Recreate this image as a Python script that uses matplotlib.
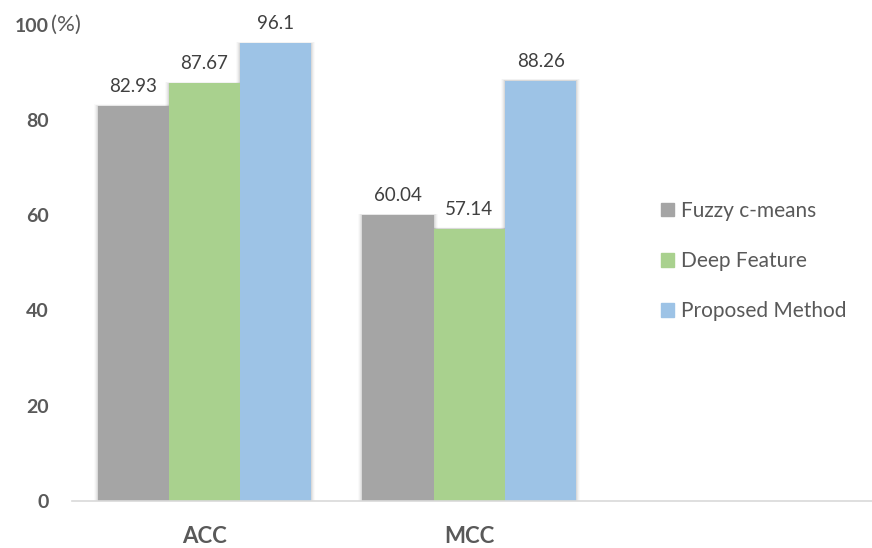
import matplotlib
matplotlib.use("Agg")
import matplotlib.pyplot as plt
import numpy as np

plt.rcParams['font.family'] = ['Lato', 'DejaVu Sans']

categories = ["ACC", "MCC"]
series_names = ["Fuzzy c-means", "Deep Feature", "Proposed Method"]
fuzzy_cmeans = [82.93, 60.04]
deep_feature = [87.67, 57.14]
proposed_method = [96.1, 88.26]
value_labels = [["82.93", "60.04"], ["87.67", "57.14"], ["96.1", "88.26"]]
y_ticks = [0, 20, 40, 60, 80, 100]

series = [fuzzy_cmeans, deep_feature, proposed_method]
colors = ["#A5A5A5", "#A9D18E", "#9DC3E6"]

W, H = 872, 548
fig = plt.figure(figsize=(W / 100, H / 100), dpi=100)
ax = fig.add_axes([72 / W, (H - 501) / H, 1 - 72 / W, (501 - 24.7) / H])

x = np.arange(len(categories))
width = 0.269
offsets = [-width, 0, width]

# soft outer shadow behind each bar
px = 1 / 265.0
for vals, off in zip(series, offsets):
    for k, a in zip([4, 3, 2, 1], [0.02, 0.03, 0.045, 0.06]):
        ax.bar(x + off, np.array(vals) + k * 0.08, width=width + 2 * k * px,
               color="#000000", alpha=a, linewidth=0, zorder=1)

for vals, off, c, name, labs in zip(series, offsets, colors, series_names, value_labels):
    bars = ax.bar(x + off, vals, width=width, color=c, linewidth=0, label=name, zorder=2)
    for b, v, t in zip(bars, vals, labs):
        ax.annotate(t, (b.get_x() + b.get_width() / 2, v), xytext=(0, 8),
                    textcoords="offset points", ha="center", va="bottom",
                    fontsize=13.5, color="#404040", zorder=3)

ax.set_xlim(-0.5, 2.52)
ax.set_ylim(0, 100)
ax.set_yticks(y_ticks)
ax.set_yticklabels([str(t) for t in y_ticks], fontsize=14, fontweight="bold", color="#595959")
ax.set_xticks(x)
ax.set_xticklabels(categories, fontsize=16, fontweight="bold", color="#595959")
ax.tick_params(axis="y", length=0, pad=17)
ax.tick_params(axis="x", length=0, pad=18)

for s in ["top", "right", "left"]:
    ax.spines[s].set_visible(False)
ax.spines["bottom"].set_color("#D9D9D9")
ax.spines["bottom"].set_linewidth(1.2)

fig.text(51 / W, 1 - 25 / H, "(%)", fontsize=16, color="#595959", ha="left", va="center")

handles = [plt.Rectangle((0, 0), 1, 1, color=c) for c in colors]
fig.legend(handles, series_names, loc="center left", bbox_to_anchor=(642 / W, 1 - 261 / H),
           frameon=False, fontsize=15, handlelength=0.65, handleheight=0.65,
           handletextpad=0.3, labelspacing=1.45, labelcolor="#595959")

fig.savefig("out.png", dpi=100)
